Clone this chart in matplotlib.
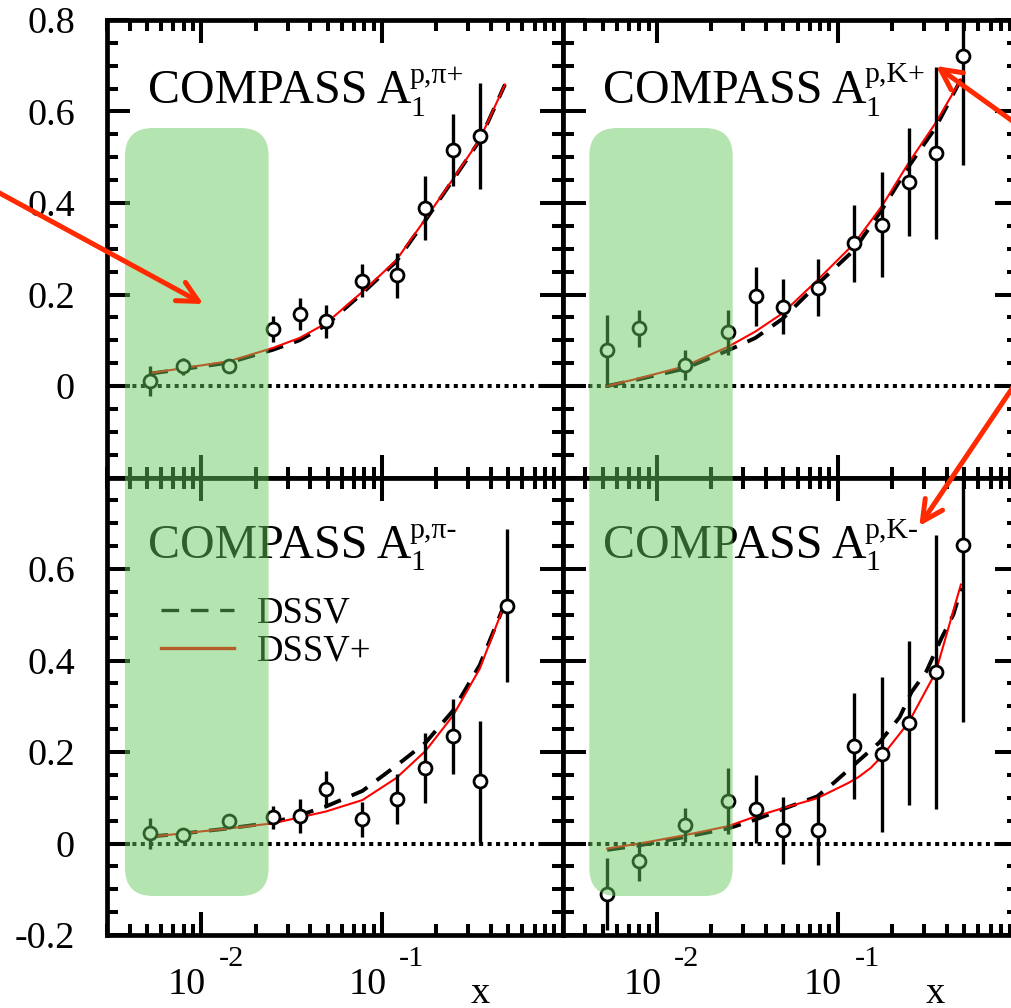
import matplotlib
matplotlib.use('Agg')
import matplotlib.pyplot as plt
import numpy as np
from matplotlib.patches import FancyBboxPatch, FancyArrowPatch
from matplotlib.transforms import IdentityTransform
from matplotlib.lines import Line2D
from matplotlib.ticker import FixedLocator, LogLocator, NullFormatter, MultipleLocator, FixedFormatter

plt.rcParams['font.family'] = ['Liberation Serif', 'DejaVu Serif']

W, H = 1011, 1008

# ---------------- data ----------------
x_pi = [0.0052, 0.0079, 0.0142, 0.0248, 0.0351, 0.0488, 0.078, 0.1216, 0.174, 0.247, 0.348, 0.49]
x_K = [0.0053, 0.0080, 0.01425, 0.0248, 0.0352, 0.0495, 0.0774, 0.1227, 0.176, 0.247, 0.348, 0.491]

# top-left: A1 p,pi+
tl_y = [0.011, 0.043, 0.043, 0.124, 0.157, 0.142, 0.23, 0.242, 0.39, 0.516, 0.547]
tl_err = [0.033, 0.018, 0.01, 0.028, 0.035, 0.036, 0.036, 0.049, 0.07, 0.079, 0.116]
# top-right: A1 p,K+
tr_y = [0.079, 0.126, 0.046, 0.117, 0.196, 0.173, 0.215, 0.312, 0.353, 0.446, 0.509, 0.722]
tr_err = [0.076, 0.04, 0.033, 0.049, 0.064, 0.06, 0.063, 0.084, 0.114, 0.118, 0.188, 0.24]
# bottom-left: A1 p,pi-
bl_y = [0.022, 0.018, 0.05, 0.057, 0.06, 0.119, 0.053, 0.097, 0.165, 0.234, 0.136, 0.52]
bl_err = [0.033, 0.015, 0.01, 0.026, 0.037, 0.039, 0.038, 0.054, 0.076, 0.082, 0.132, 0.167]
# bottom-right: A1 p,K-
br_y = [-0.110, -0.039, 0.040, 0.093, 0.076, 0.029, 0.029, 0.213, 0.195, 0.263, 0.375, 0.652]
br_err = [0.079, 0.042, 0.037, 0.072, 0.074, 0.073, 0.076, 0.116, 0.169, 0.179, 0.299, 0.387]

# theory curves
cx_pi = [0.0052, 0.0079, 0.0142, 0.0248, 0.035, 0.049, 0.078, 0.12, 0.174, 0.247, 0.348, 0.48]
tl_dssv = [0.027, 0.037, 0.051, 0.079, 0.100, 0.133, 0.203, 0.272, 0.362, 0.450, 0.537, 0.659]
tl_dssvp = [0.028, 0.039, 0.054, 0.083, 0.105, 0.137, 0.206, 0.275, 0.365, 0.452, 0.539, 0.659]
bl_dssv = [0.015, 0.022, 0.033, 0.046, 0.062, 0.081, 0.115, 0.170, 0.220, 0.290, 0.390, 0.525]
bl_dssvp = [0.015, 0.022, 0.033, 0.044, 0.057, 0.070, 0.095, 0.143, 0.202, 0.279, 0.382, 0.525]

cx_kp = [0.0053, 0.008, 0.0142, 0.0248, 0.035, 0.0495, 0.077, 0.123, 0.176, 0.247, 0.348, 0.48]
tr_dssv = [0.0, 0.015, 0.038, 0.078, 0.105, 0.147, 0.222, 0.297, 0.386, 0.480, 0.565, 0.670]
tr_dssvp = [0.0, 0.017, 0.043, 0.086, 0.119, 0.159, 0.231, 0.311, 0.394, 0.488, 0.575, 0.670]

cx_km_dssv = [0.0053, 0.008, 0.0142, 0.0248, 0.035, 0.0495, 0.077, 0.096, 0.124, 0.17, 0.22, 0.256, 0.31, 0.375, 0.436, 0.484]
br_dssv = [-0.014, -0.004, 0.014, 0.033, 0.052, 0.075, 0.103, 0.134, 0.173, 0.221, 0.276, 0.331, 0.377, 0.449, 0.50, 0.559]
cx_km_dssvp = [0.0053, 0.008, 0.0142, 0.0248, 0.035, 0.0495, 0.077, 0.114, 0.13, 0.152, 0.176, 0.247, 0.348, 0.48]
br_dssvp = [-0.011, 0.0, 0.018, 0.038, 0.059, 0.077, 0.099, 0.132, 0.145, 0.165, 0.191, 0.265, 0.374, 0.566]

yticks = [-0.2, 0.0, 0.2, 0.4, 0.6, 0.8]
top_ylabels = ['', '0', '0.2', '0.4', '0.6', '0.8']
bot_ylabels = ['-0.2', '0', '0.2', '0.4', '0.6', '']
xtick_vals = [0.01, 0.1]
xtick_exps = ['-2', '-1']
panel_sups = ['p,\u03c0+', 'p,K+', 'p,\u03c0-', 'p,K-']

# ---------------- figure ----------------
fig = plt.figure(figsize=(W / 100, H / 100), dpi=100)
L, M, R = 107, 562.5, 1018.5
T, Mid, B = 20, 477.5, 935


def add_ax(x0, x1, y0, y1):
    return fig.add_axes([x0 / W, 1 - y1 / H, (x1 - x0) / W, (y1 - y0) / H])


ax_tl = add_ax(L, M, T, Mid)
ax_tr = add_ax(M, R, T, Mid)
ax_bl = add_ax(L, M, Mid, B)
ax_br = add_ax(M, R, Mid, B)

DASH = (0, (4.6, 3.0))


def style(ax, labels):
    ax.set_xscale('log')
    ax.set_xlim(0.003, 1.0)
    ax.set_ylim(-0.2, 0.8)
    ax.xaxis.set_major_locator(FixedLocator(xtick_vals))
    ax.xaxis.set_minor_locator(LogLocator(base=10, subs=np.arange(2, 10), numticks=30))
    ax.xaxis.set_major_formatter(NullFormatter())
    ax.xaxis.set_minor_formatter(NullFormatter())
    ax.yaxis.set_major_locator(FixedLocator(yticks))
    ax.yaxis.set_minor_locator(MultipleLocator(0.05))
    if labels is None:
        ax.yaxis.set_major_formatter(NullFormatter())
    else:
        ax.yaxis.set_major_formatter(FixedFormatter(labels))
    ax.tick_params(which='both', direction='in', top=True, right=True,
                   bottom=True, left=True, width=2.9, color='black')
    ax.tick_params(which='major', length=16.5, labelsize=27.5, pad=23)
    ax.tick_params(which='minor', length=8)
    for s in ax.spines.values():
        s.set_linewidth(3.4)
    ax.axhline(0, color='black', lw=2.9, ls=(0, (1, 1.1)), zorder=1)


def draw(ax, xc_d, yd, xc_p, yp, xd, yv, ye):
    ax.plot(xc_d, yd, color='black', lw=2.8, ls=DASH, zorder=2)
    ax.plot(xc_p, yp, color='red', lw=1.5, zorder=3)
    ax.errorbar(xd, yv, yerr=ye, fmt='o', ms=9.3, mfc='white', mec='black',
                mew=2.0, ecolor='black', elinewidth=2.4, capsize=0, zorder=4)


style(ax_tl, top_ylabels)
style(ax_tr, None)
style(ax_bl, bot_ylabels)
style(ax_br, None)

draw(ax_tl, cx_pi, tl_dssv, cx_pi, tl_dssvp, x_pi[:len(tl_y)], tl_y, tl_err)
draw(ax_tr, cx_kp, tr_dssv, cx_kp, tr_dssvp, x_K, tr_y, tr_err)
draw(ax_bl, cx_pi, bl_dssv, cx_pi, bl_dssvp, x_pi, bl_y, bl_err)
draw(ax_br, cx_km_dssv, br_dssv, cx_km_dssvp, br_dssvp, x_K, br_y, br_err)

# legend
handles = [Line2D([], [], color='black', lw=2.4, ls=(0, (5.3, 3.5))),
           Line2D([], [], color='red', lw=2.4)]
ax_bl.legend(handles, ['DSSV', 'DSSV+'], loc='upper left',
             bbox_to_anchor=(160.7 / W, 1 - 596 / H), bbox_transform=fig.transFigure,
             frameon=False, fontsize=26.5, handlelength=2.0, handletextpad=0.62,
             labelspacing=0.1, borderpad=0, borderaxespad=0)

# x tick labels
for ax in (ax_bl, ax_br):
    for t, e in zip(xtick_vals, xtick_exps):
        ax.annotate('10', xy=(t, 0), xycoords=('data', 'axes fraction'),
                    xytext=(4.5, -58.5), textcoords='offset pixels',
                    ha='right', va='baseline', fontsize=27.5, annotation_clip=False)
        ax.annotate(e, xy=(t, 0), xycoords=('data', 'axes fraction'),
                    xytext=(17, -31.5), textcoords='offset pixels',
                    ha='left', va='baseline', fontsize=21.8, annotation_clip=False)


def ft(x, y, s, size, **kw):
    return fig.text(x / W, 1 - y / H, s, fontsize=size, va='baseline', ha=kw.pop('ha', 'left'), **kw)


ft(480, 1003, 'x', 27.5, ha='center')
ft(935, 1003, 'x', 27.5, ha='center')

# panel titles
pos = [(148.3, 409.3, 103.3), (602.7, 864.0, 103.0), (148.3, 409.3, 558.0), (602.7, 864.0, 558.0)]
for (xm, xs, yb), sup in zip(pos, panel_sups):
    ft(xm, yb, 'COMPASS A', 34.5)
    ft(xs, yb - 20.5, sup, 21.5)
    ft(xs + 1, yb + 12.5, '1', 21.5)

# green overlays
for x0, w in [(125.0, 143.6), (589.3, 143.4)]:
    p = FancyBboxPatch((x0, H - 896), w, 896 - 128,
                       boxstyle='round,pad=0,rounding_size=28',
                       transform=IdentityTransform(), facecolor=(100 / 255, 200 / 255, 90 / 255),
                       edgecolor='none', alpha=0.48, zorder=10)
    fig.add_artist(p)

# red arrows
for tail, tip in [((-100, 138.8), (203.3, 304)), ((1100, 184), (936, 66)), ((1080, 287.7), (919.3, 526))]:
    a = FancyArrowPatch((tail[0], H - tail[1]), (tip[0], H - tip[1]),
                        arrowstyle='->,head_length=1.48,head_width=0.75',
                        mutation_scale=10, lw=3.6, color='#ff2a00',
                        shrinkA=0, shrinkB=0, transform=IdentityTransform(), zorder=11)
    fig.add_artist(a)

fig.savefig('out.png', dpi=100)
